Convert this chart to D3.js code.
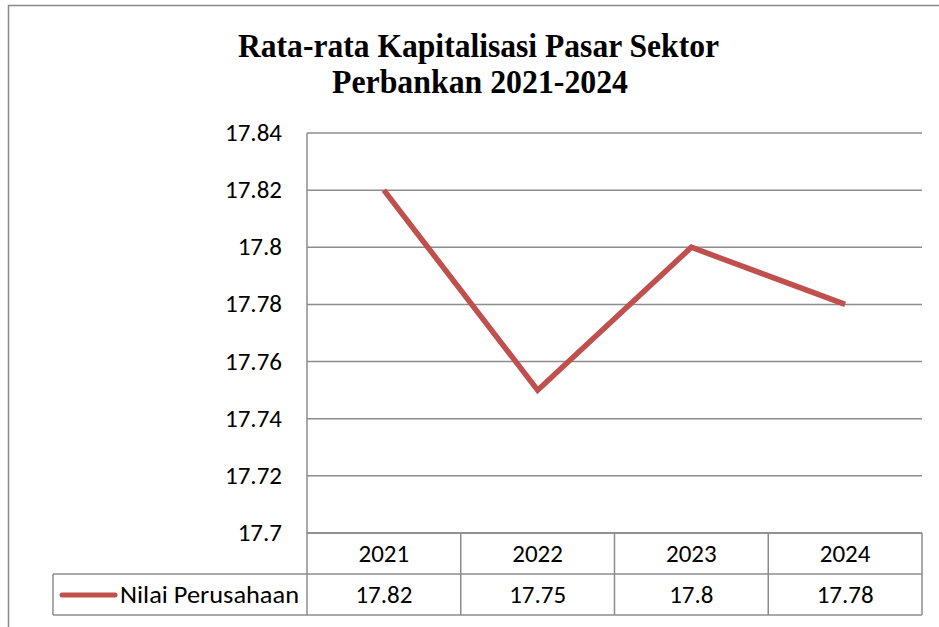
<!DOCTYPE html>
<html>
<head>
<meta charset="utf-8">
<script src="https://cdn.jsdelivr.net/npm/d3@7"></script>
<style>
  html, body { margin: 0; padding: 0; background: #fff; }
  svg { display: block; }
</style>
</head>
<body>
<div id="chart"></div>
<script>
const years = ["2021", "2022", "2023", "2024"];
const nilaiPerusahaan = [17.82, 17.75, 17.8, 17.78];
const valueLabels = ["17.82", "17.75", "17.8", "17.78"];
const yTicks = [17.7, 17.72, 17.74, 17.76, 17.78, 17.8, 17.82, 17.84];
const seriesName = "Nilai Perusahaan";
const titleLines = ["Rata-rata Kapitalisasi Pasar Sektor", "Perbankan 2021-2024"];

const width = 939;
const height = 627;
const red = "#c0504d";
const grid = "#8c8c8c";
const sans = "Carlito, Calibri, 'Liberation Sans', Arial, sans-serif";
const fontSize = 25;

const svg = d3.select("#chart")
  .append("svg")
  .attr("width", width)
  .attr("height", height);

// outer chart border (runs off the right and bottom edges)
svg.append("rect")
  .attr("x", 8.5).attr("y", 5.5)
  .attr("width", 960).attr("height", 660)
  .attr("fill", "none")
  .attr("stroke", "#898989")
  .attr("stroke-width", 1.5);

// title
svg.append("g")
  .attr("font-family", "'Liberation Serif', 'Times New Roman', serif")
  .attr("font-weight", "bold")
  .attr("font-size", 33)
  .attr("text-anchor", "middle")
  .selectAll("text")
  .data(titleLines)
  .join("text")
  .attr("x", (d, i) => (i === 0 ? 478.5 : 480))
  .attr("y", (d, i) => 57 + i * 36)
  .attr("textLength", (d, i) => (i === 0 ? 481 : 296))
  .attr("lengthAdjust", "spacingAndGlyphs")
  .text((d) => d);

const x = d3.scaleBand().domain(years).range([307, 922]);
const y = d3.scaleLinear().domain([17.7, 17.84]).range([533, 133]);

// gridlines
svg.append("g")
  .selectAll("line")
  .data(yTicks)
  .join("line")
  .attr("x1", 307).attr("x2", 922)
  .attr("y1", (d) => y(d)).attr("y2", (d) => y(d))
  .attr("stroke", grid)
  .attr("stroke-width", 1.5);

// y axis line
svg.append("line")
  .attr("x1", 307).attr("x2", 307)
  .attr("y1", y(17.84)).attr("y2", y(17.7))
  .attr("stroke", grid)
  .attr("stroke-width", 1.5);

// tick labels
svg.append("g")
  .attr("font-family", sans)
  .attr("font-size", fontSize)
  .attr("text-anchor", "end")
  .selectAll("text")
  .data(yTicks)
  .join("text")
  .attr("x", 282)
  .attr("y", (d) => y(d))
  .attr("dy", "0.32em")
  .text((d) => d3.format("~g")(d));

// line
const line = d3.line()
  .x((d, i) => x(years[i]) + x.bandwidth() / 2)
  .y((d) => y(d));

svg.append("path")
  .datum(nilaiPerusahaan)
  .attr("d", line)
  .attr("fill", "none")
  .attr("stroke", red)
  .attr("stroke-width", 5.5)
  .attr("stroke-linejoin", "miter")
  .attr("stroke-linecap", "butt");

// data table
const rowTop = [533, 574];
const rowBottom = 615;
const table = svg.append("g")
  .attr("stroke", grid)
  .attr("stroke-width", 1.5)
  .attr("fill", "none");

table.append("line").attr("x1", 307).attr("x2", 922).attr("y1", rowTop[0]).attr("y2", rowTop[0]);
table.append("line").attr("x1", 53).attr("x2", 922).attr("y1", rowTop[1]).attr("y2", rowTop[1]);
table.append("line").attr("x1", 53).attr("x2", 922).attr("y1", rowBottom).attr("y2", rowBottom);
table.append("line").attr("x1", 53).attr("x2", 53).attr("y1", rowTop[1]).attr("y2", rowBottom);

table.selectAll(".col")
  .data(years.map((d) => x(d)).concat([x.range()[1]]))
  .join("line")
  .attr("x1", (d) => d).attr("x2", (d) => d)
  .attr("y1", rowTop[0]).attr("y2", rowBottom);

const cells = svg.append("g")
  .attr("font-family", sans)
  .attr("font-size", fontSize)
  .attr("text-anchor", "middle");

cells.selectAll(".year")
  .data(years)
  .join("text")
  .attr("x", (d) => x(d) + x.bandwidth() / 2)
  .attr("y", (rowTop[0] + rowTop[1]) / 2)
  .attr("dy", "0.32em")
  .text((d) => d);

cells.selectAll(".val")
  .data(valueLabels)
  .join("text")
  .attr("x", (d, i) => x(years[i]) + x.bandwidth() / 2)
  .attr("y", (rowTop[1] + rowBottom) / 2)
  .attr("dy", "0.32em")
  .text((d) => d);

// legend key in the table
svg.append("line")
  .attr("x1", 62).attr("x2", 115)
  .attr("y1", 595).attr("y2", 595)
  .attr("stroke", red)
  .attr("stroke-width", 5)
  .attr("stroke-linecap", "round");

svg.append("text")
  .attr("x", 120)
  .attr("y", 595)
  .attr("dy", "0.32em")
  .attr("font-family", sans)
  .attr("font-size", fontSize)
  .attr("textLength", 179)
  .attr("lengthAdjust", "spacingAndGlyphs")
  .text(seriesName);
</script>
</body>
</html>
